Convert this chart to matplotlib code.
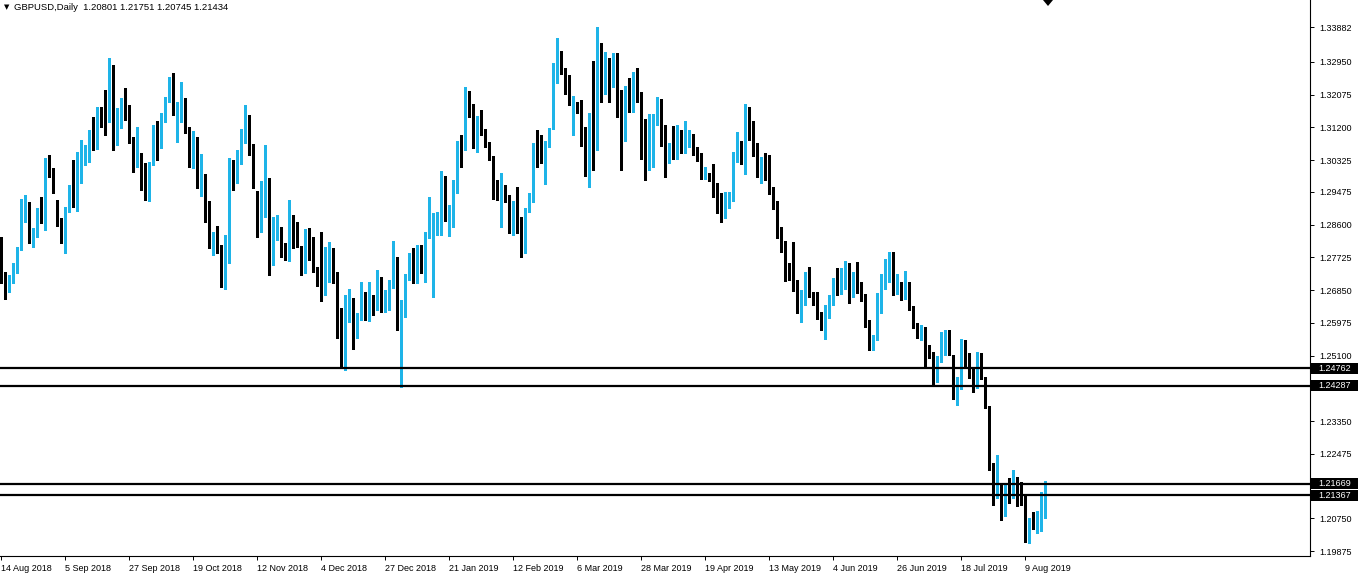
import numpy as np
import matplotlib
matplotlib.use("Agg")
import matplotlib.pyplot as plt
from matplotlib.patches import Polygon, Rectangle
from matplotlib.transforms import blended_transform_factory

# GBPUSD daily bars, 14 Aug 2018 .. mid Aug 2019
opens = [
    1.2765, 1.2725, 1.2685, 1.2707, 1.2739, 1.2795, 1.2886, 1.2904, 1.2808, 1.2835,
    1.2891, 1.2867, 1.3027, 1.3009, 1.2918, 1.2870, 1.2854, 1.2896, 1.2928, 1.2921,
    1.3025, 1.3038, 1.3038, 1.3110, 1.3068, 1.3150, 1.3153, 1.3140, 1.3265, 1.3078,
    1.3121, 1.3180, 1.3169, 1.3075, 1.3038, 1.3046, 1.2979, 1.2939, 1.3025, 1.3124,
    1.3083, 1.3145, 1.3193, 1.3239, 1.3084, 1.3153, 1.3185, 1.3115, 1.3017, 1.3070,
    1.2958, 1.2985, 1.2883, 1.2811, 1.2824, 1.2795, 1.2696, 1.2760, 1.3003, 1.3022,
    1.3038, 1.3100, 1.3129, 1.3065, 1.2921, 1.2859, 1.2974, 1.2974, 1.2757, 1.2840,
    1.2851, 1.2784, 1.2768, 1.2878, 1.2821, 1.2800, 1.2739, 1.2824, 1.2784, 1.2736,
    1.2723, 1.2704, 1.2728, 1.2795, 1.2707, 1.2554, 1.2477, 1.2616, 1.2642, 1.2597,
    1.2610, 1.2629, 1.2605, 1.2653, 1.2640, 1.2669, 1.2629, 1.2640, 1.2693, 1.2733,
    1.2597, 1.2618, 1.2717, 1.2784, 1.2707, 1.2789, 1.2739, 1.2851, 1.2856, 1.2859,
    1.2880, 1.2987, 1.2878, 1.2891, 1.2961, 1.3073, 1.3065, 1.3190, 1.3158, 1.3068,
    1.3118, 1.3108, 1.3070, 1.3041, 1.2952, 1.2934, 1.2952, 1.2931, 1.2854, 1.2894,
    1.2846, 1.2797, 1.2904, 1.2926, 1.3065, 1.3051, 1.3027, 1.3076, 1.3124, 1.3257,
    1.3313, 1.3268, 1.3257, 1.3177, 1.3182, 1.3174, 1.3086, 1.2966, 1.3148, 1.3078,
    1.3343, 1.3244, 1.3303, 1.3257, 1.3271, 1.3196, 1.3110, 1.3222, 1.3201, 1.3209,
    1.3190, 1.3041, 1.3041, 1.3070, 1.3132, 1.3166, 1.3078, 1.3035, 1.3057, 1.3041,
    1.3091, 1.3054, 1.3076, 1.3097, 1.3054, 1.3041, 1.2985, 1.2993, 1.2985, 1.2936,
    1.2902, 1.2896, 1.2912, 1.2926, 1.3033, 1.3062, 1.3025, 1.3148, 1.3100, 1.3076,
    1.3003, 1.3009, 1.2995, 1.2958, 1.2904, 1.2843, 1.2795, 1.2725, 1.2723, 1.2707,
    1.2648, 1.2648, 1.2723, 1.2677, 1.2653, 1.2621, 1.2605, 1.2624, 1.2661, 1.2691,
    1.2677, 1.2691, 1.2731, 1.2685, 1.2709, 1.2685, 1.2672, 1.2573, 1.2530, 1.2554,
    1.2632, 1.2691, 1.2731, 1.2725, 1.2680, 1.2685, 1.2664, 1.2699, 1.2640, 1.2589,
    1.2562, 1.2584, 1.2525, 1.2517, 1.2463, 1.2498, 1.2517, 1.2573, 1.2506, 1.2399,
    1.2423, 1.2546, 1.2487, 1.2477, 1.2437, 1.2482, 1.2450, 1.2372, 1.2220, 1.2137,
    1.2153, 1.2121, 1.2159, 1.2135, 1.2159, 1.2140, 1.2124, 1.2030, 1.2070, 1.2046,
    1.2046, 1.20801,
]
highs = [
    1.2827, 1.2733, 1.2725, 1.2757, 1.2800, 1.2928, 1.2939, 1.2921, 1.2851, 1.2904,
    1.2934, 1.3038, 1.3046, 1.3011, 1.2926, 1.2878, 1.2907, 1.2966, 1.3033, 1.3054,
    1.3086, 1.3073, 1.3113, 1.3148, 1.3174, 1.3174, 1.3220, 1.3305, 1.3287, 1.3172,
    1.3198, 1.3225, 1.3180, 1.3094, 1.3121, 1.3051, 1.3025, 1.3027, 1.3126, 1.3137,
    1.3158, 1.3201, 1.3255, 1.3265, 1.3188, 1.3241, 1.3198, 1.3121, 1.3110, 1.3094,
    1.3049, 1.2995, 1.2923, 1.2840, 1.2856, 1.2805, 1.2832, 1.3038, 1.3033, 1.3060,
    1.3116, 1.3180, 1.3153, 1.3076, 1.2950, 1.2977, 1.3073, 1.2985, 1.2880, 1.2886,
    1.2854, 1.2811, 1.2926, 1.2886, 1.2867, 1.2803, 1.2848, 1.2851, 1.2827, 1.2747,
    1.2840, 1.2800, 1.2814, 1.2797, 1.2733, 1.2637, 1.2672, 1.2688, 1.2664, 1.2624,
    1.2707, 1.2680, 1.2707, 1.2672, 1.2739, 1.2720, 1.2685, 1.2712, 1.2816, 1.2773,
    1.2658, 1.2728, 1.2784, 1.2797, 1.2806, 1.2806, 1.2840, 1.2934, 1.2891, 1.2894,
    1.3003, 1.2990, 1.2912, 1.2979, 1.3084, 1.3100, 1.3228, 1.3217, 1.3182, 1.3150,
    1.3166, 1.3116, 1.3081, 1.3043, 1.2979, 1.2998, 1.2966, 1.2939, 1.2923, 1.2961,
    1.2880, 1.2904, 1.2944, 1.3078, 1.3113, 1.3100, 1.3084, 1.3118, 1.3292, 1.3359,
    1.3324, 1.3279, 1.3260, 1.3204, 1.3188, 1.3193, 1.3121, 1.3158, 1.3297, 1.3388,
    1.3346, 1.3321, 1.3305, 1.3319, 1.3319, 1.3220, 1.3231, 1.3252, 1.3268, 1.3279,
    1.3215, 1.3142, 1.3156, 1.3156, 1.3201, 1.3196, 1.3126, 1.3078, 1.3124, 1.3126,
    1.3113, 1.3137, 1.3113, 1.3102, 1.3068, 1.3051, 1.3014, 1.2998, 1.3022, 1.2971,
    1.2944, 1.2947, 1.2947, 1.3054, 1.3108, 1.3084, 1.3182, 1.3174, 1.3137, 1.3078,
    1.3041, 1.3051, 1.3046, 1.2961, 1.2923, 1.2854, 1.2816, 1.2757, 1.2814, 1.2712,
    1.2685, 1.2733, 1.2747, 1.2680, 1.2680, 1.2626, 1.2645, 1.2672, 1.2717, 1.2744,
    1.2744, 1.2763, 1.2757, 1.2733, 1.2760, 1.2707, 1.2674, 1.2605, 1.2565, 1.2677,
    1.2728, 1.2768, 1.2787, 1.2787, 1.2728, 1.2707, 1.2736, 1.2707, 1.2642, 1.2597,
    1.2592, 1.2586, 1.2538, 1.2520, 1.2509, 1.2573, 1.2578, 1.2578, 1.2512, 1.2453,
    1.2554, 1.2552, 1.2517, 1.2479, 1.2520, 1.2517, 1.2453, 1.2375, 1.2223, 1.2244,
    1.2164, 1.2169, 1.2183, 1.2204, 1.2185, 1.2172, 1.2137, 1.2076, 1.2092, 1.2094,
    1.2145, 1.21751,
]
lows = [
    1.2704, 1.2661, 1.2680, 1.2704, 1.2731, 1.2792, 1.2867, 1.2811, 1.2800, 1.2827,
    1.2864, 1.2846, 1.2987, 1.2944, 1.2856, 1.2811, 1.2784, 1.2894, 1.2907, 1.2896,
    1.2971, 1.3019, 1.3027, 1.3060, 1.3062, 1.3121, 1.3100, 1.3134, 1.3060, 1.3073,
    1.3118, 1.3140, 1.3078, 1.3001, 1.3014, 1.2952, 1.2926, 1.2923, 1.3019, 1.3033,
    1.3065, 1.3134, 1.3188, 1.3153, 1.3081, 1.3134, 1.3105, 1.3014, 1.3011, 1.2958,
    1.2937, 1.2867, 1.2797, 1.2779, 1.2784, 1.2693, 1.2688, 1.2757, 1.2952, 1.2971,
    1.3022, 1.3078, 1.3046, 1.2958, 1.2827, 1.2840, 1.2880, 1.2725, 1.2752, 1.2819,
    1.2773, 1.2765, 1.2763, 1.2797, 1.2800, 1.2725, 1.2731, 1.2765, 1.2733, 1.2696,
    1.2656, 1.2672, 1.2707, 1.2704, 1.2557, 1.2477, 1.2471, 1.2600, 1.2527, 1.2557,
    1.2605, 1.2605, 1.2602, 1.2618, 1.2632, 1.2626, 1.2626, 1.2632, 1.2691, 1.2578,
    1.2426, 1.2613, 1.2712, 1.2704, 1.2704, 1.2731, 1.2707, 1.2824, 1.2666, 1.2832,
    1.2832, 1.2870, 1.2830, 1.2854, 1.2944, 1.3014, 1.3060, 1.3148, 1.3065, 1.3054,
    1.3100, 1.3068, 1.3033, 1.2928, 1.2926, 1.2854, 1.2921, 1.2838, 1.2832, 1.2838,
    1.2773, 1.2784, 1.2894, 1.2921, 1.3014, 1.3025, 1.2969, 1.3068, 1.3116, 1.3239,
    1.3263, 1.3209, 1.3180, 1.3100, 1.3158, 1.3070, 1.2990, 1.2961, 1.3006, 1.3060,
    1.3188, 1.3209, 1.3188, 1.3228, 1.3148, 1.3006, 1.3084, 1.3161, 1.3161, 1.3188,
    1.3035, 1.2979, 1.3006, 1.3014, 1.3126, 1.3070, 1.2987, 1.3025, 1.3035, 1.3035,
    1.3051, 1.3051, 1.3068, 1.3046, 1.3030, 1.2982, 1.2982, 1.2977, 1.2934, 1.2891,
    1.2867, 1.2878, 1.2904, 1.2923, 1.3027, 1.3022, 1.2995, 1.3086, 1.3043, 1.2987,
    1.2971, 1.2979, 1.2942, 1.2902, 1.2824, 1.2787, 1.2709, 1.2712, 1.2682, 1.2624,
    1.2600, 1.2645, 1.2667, 1.2645, 1.2608, 1.2578, 1.2554, 1.2610, 1.2645, 1.2672,
    1.2674, 1.2688, 1.2650, 1.2667, 1.2677, 1.2656, 1.2586, 1.2525, 1.2525, 1.2552,
    1.2624, 1.2688, 1.2707, 1.2672, 1.2674, 1.2658, 1.2661, 1.2632, 1.2584, 1.2557,
    1.2552, 1.2477, 1.2503, 1.2434, 1.2439, 1.2493, 1.2512, 1.2512, 1.2394, 1.2378,
    1.2421, 1.2477, 1.2450, 1.2413, 1.2423, 1.2447, 1.2370, 1.2204, 1.2110, 1.2129,
    1.2070, 1.2081, 1.2116, 1.2129, 1.2108, 1.2111, 1.2012, 1.2009, 1.2046, 1.2036,
    1.2041, 1.20745,
]
closes = [
    1.2720, 1.2696, 1.2712, 1.2749, 1.2797, 1.2907, 1.2915, 1.2814, 1.2848, 1.2896,
    1.2870, 1.3033, 1.3011, 1.2961, 1.2870, 1.2854, 1.2907, 1.2928, 1.2915, 1.3030,
    1.3041, 1.3054, 1.3108, 1.3070, 1.3164, 1.3149, 1.3148, 1.3279, 1.3086, 1.3121,
    1.3188, 1.3169, 1.3081, 1.3030, 1.3043, 1.2979, 1.2939, 1.3025, 1.3121, 1.3094,
    1.3153, 1.3198, 1.3241, 1.3158, 1.3166, 1.3190, 1.3118, 1.3017, 1.3070, 1.2963,
    1.2987, 1.2878, 1.2816, 1.2827, 1.2792, 1.2707, 1.2765, 1.3001, 1.2966, 1.3046,
    1.3113, 1.3132, 1.3065, 1.2974, 1.2851, 1.2971, 1.2990, 1.2771, 1.2824, 1.2851,
    1.2784, 1.2779, 1.2878, 1.2800, 1.2806, 1.2739, 1.2824, 1.2784, 1.2747, 1.2723,
    1.2715, 1.2733, 1.2784, 1.2731, 1.2560, 1.2479, 1.2624, 1.2658, 1.2584, 1.2613,
    1.2640, 1.2610, 1.2658, 1.2637, 1.2701, 1.2629, 1.2645, 1.2696, 1.2747, 1.2610,
    1.2637, 1.2725, 1.2776, 1.2712, 1.2787, 1.2749, 1.2838, 1.2867, 1.2864, 1.2880,
    1.2987, 1.2872, 1.2891, 1.2961, 1.3073, 1.3065, 1.3204, 1.3158, 1.3068, 1.3118,
    1.3113, 1.3084, 1.3041, 1.2950, 1.2931, 1.2955, 1.2939, 1.2859, 1.2912, 1.2846,
    1.2797, 1.2891, 1.2926, 1.3068, 1.3051, 1.3041, 1.3057, 1.3100, 1.3257, 1.3316,
    1.3265, 1.3212, 1.3185, 1.3185, 1.3174, 1.3084, 1.3017, 1.3156, 1.3076, 1.3346,
    1.3244, 1.3297, 1.3260, 1.3271, 1.3196, 1.3108, 1.3215, 1.3201, 1.3212, 1.3198,
    1.3041, 1.3030, 1.3110, 1.3137, 1.3161, 1.3078, 1.3035, 1.3068, 1.3054, 1.3094,
    1.3054, 1.3076, 1.3105, 1.3049, 1.3041, 1.2987, 1.2993, 1.2979, 1.2936, 1.2899,
    1.2896, 1.2918, 1.2931, 1.3038, 1.3054, 1.3033, 1.3180, 1.3097, 1.3078, 1.3011,
    1.3009, 1.3003, 1.2958, 1.2904, 1.2840, 1.2795, 1.2712, 1.2720, 1.2704, 1.2658,
    1.2658, 1.2712, 1.2677, 1.2651, 1.2624, 1.2605, 1.2632, 1.2666, 1.2704, 1.2677,
    1.2691, 1.2739, 1.2682, 1.2720, 1.2685, 1.2672, 1.2589, 1.2530, 1.2557, 1.2642,
    1.2701, 1.2744, 1.2739, 1.2691, 1.2691, 1.2664, 1.2696, 1.2637, 1.2592, 1.2568,
    1.2578, 1.2520, 1.2511, 1.2474, 1.2504, 1.2525, 1.2576, 1.2514, 1.2426, 1.2426,
    1.2546, 1.2506, 1.2477, 1.2437, 1.2479, 1.2453, 1.2378, 1.2209, 1.2143, 1.2153,
    1.2121, 1.2156, 1.2137, 1.2167, 1.2129, 1.2129, 1.2014, 1.2065, 1.2052, 1.2052,
    1.2089, 1.21434,
]

date_labels = ['14 Aug 2018', '5 Sep 2018', '27 Sep 2018', '19 Oct 2018', '12 Nov 2018',
               '4 Dec 2018', '27 Dec 2018', '21 Jan 2019', '12 Feb 2019', '6 Mar 2019',
               '28 Mar 2019', '19 Apr 2019', '13 May 2019', '4 Jun 2019', '26 Jun 2019',
               '18 Jul 2019', '9 Aug 2019']
date_step = 16  # bars between date labels

price_ticks = [1.33882, 1.32950, 1.32075, 1.31200, 1.30325, 1.29475, 1.28600, 1.27725,
               1.26850, 1.25975, 1.25100, 1.23350, 1.22475, 1.20750, 1.19875]

levels = [1.24762, 1.24287, 1.21669, 1.21367]

header = 'GBPUSD,Daily  1.20801 1.21751 1.20745 1.21434'

bull_color = '#1eb4e8'
bear_color = '#000000'

o = np.array(opens)
h = np.array(highs)
l = np.array(lows)
c = np.array(closes)
x = np.arange(len(o))
up = c > o
colors = np.where(up, bull_color, bear_color)

W, H = 1358, 577
fig = plt.figure(figsize=(W / 100, H / 100), dpi=100)
fig.patch.set_facecolor('white')
plot_w, plot_h = 1310, 556
ax = fig.add_axes([0, (H - plot_h) / H, plot_w / W, plot_h / H])

# wicks and bodies
ax.vlines(x, l, h, colors=colors, linewidth=0.75, antialiased=False, zorder=3)
body_lo = np.minimum(o, c)
body_hi = np.maximum(np.abs(c - o), 0.00027)
ax.bar(x, body_hi, bottom=body_lo, width=0.75, color=colors, linewidth=0,
       antialiased=False, zorder=4)

# horizontal levels
for lv in levels:
    ax.axhline(lv, color='black', linewidth=1.6, zorder=5)

ax.set_xlim(-0.25, -0.25 + plot_w / 4)
ax.set_ylim(1.19742, 1.34604)

for s in ['top', 'left']:
    ax.spines[s].set_visible(False)
for s in ['right', 'bottom']:
    ax.spines[s].set_linewidth(0.8)
    ax.spines[s].set_color('black')

font = 'Liberation Sans'
ax.yaxis.tick_right()
ax.set_yticks(price_ticks)
ax.set_yticklabels([f'{p:.5f}' for p in price_ticks], fontsize=6.5, family=font)
ax.tick_params(axis='y', direction='out', length=3, width=0.7, pad=4)

ax.set_xticks(np.arange(len(date_labels)) * date_step)
ax.set_xticklabels(date_labels, fontsize=6.5, family=font, ha='left')
ax.tick_params(axis='x', direction='out', length=3, width=0.7, pad=3)

# level price boxes on the axis
trans = blended_transform_factory(ax.transAxes, ax.transData)
box_h = 11 * 0.0002673
for lv in levels:
    ax.add_patch(Rectangle((1.0, lv - box_h / 2), (W - plot_w) / plot_w, box_h,
                           transform=trans, facecolor='black', edgecolor='none',
                           clip_on=False, zorder=6))
    ax.text(1318 / plot_w, lv, f'{lv:.5f}', transform=trans, color='white',
            fontsize=6.5, family=font, va='center', ha='left', clip_on=False, zorder=7)

# header
fig.text(4 / W, 1 - 7 / H, '\u25bc', fontsize=5, family='DejaVu Sans', va='center', ha='left')
fig.text(14 / W, 1 - 7 / H, header, fontsize=6.8, family=font, va='center', ha='left')

# chart shift marker
fig.add_artist(Polygon([(10.43, 5.77), (10.53, 5.77), (10.48, 5.71)], closed=True,
                       transform=fig.dpi_scale_trans, facecolor='black', edgecolor='none'))

fig.savefig('out.png', dpi=100)
